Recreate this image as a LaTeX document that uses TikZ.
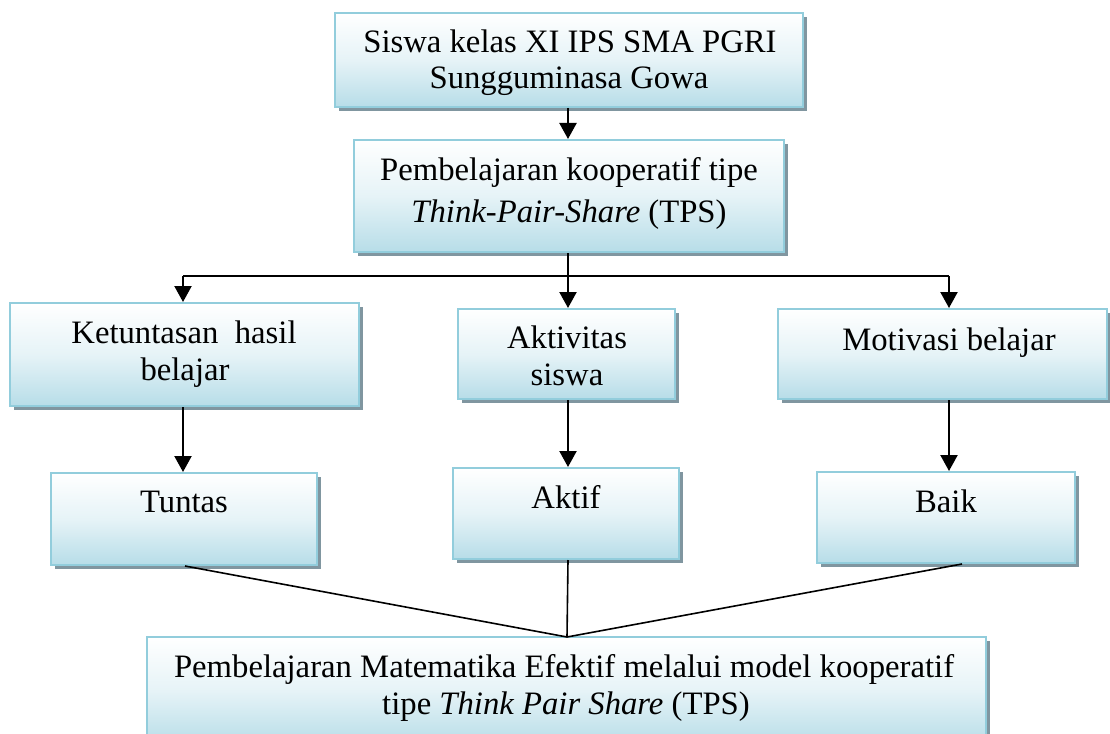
\documentclass[tikz,border=0pt]{standalone}
\usepackage{fontspec}
\setmainfont{Liberation Serif}
\usetikzlibrary{arrows.meta,shadows,fit}
\definecolor{boxline}{RGB}{146,205,220}
\definecolor{boxfill}{RGB}{183,221,232}
\definecolor{shc}{RGB}{128,150,160}
\tikzset{
  box/.style={draw=boxline, line width=2pt, inner sep=0pt,
    top color=white, bottom color=boxfill, middle color={boxfill!35!white},
    drop shadow={shadow xshift=4pt, shadow yshift=-4pt, fill=shc, opacity=1}},
  txt/.style={anchor=base, inner sep=0pt, font=\fontsize{32.7}{36}\selectfont},
  arr/.style={line width=2.2pt, -{Triangle[width=17pt,length=16pt]}},
  ln/.style={line width=2.2pt},
  thin ln/.style={line width=1.6pt}
}
\begin{document}
\begin{tikzpicture}[x=1pt,y=-1pt]
\useasboundingbox (0,0) rectangle (1110,733);
\clip (0,0) rectangle (1110,733);
% boxes
\node[box, fit={(335,13) (803,107)}] (b1) {};
\node[box, fit={(354,140) (784,252)}] (b2) {};
\node[box, fit={(10,303) (359,406)}] (b3) {};
\node[box, fit={(458,309) (675,399)}] (b4) {};
\node[box, fit={(778,309) (1107,399)}] (b5) {};
\node[box, fit={(51,473) (317,565)}] (b6) {};
\node[box, fit={(453,468) (679,559)}] (b7) {};
\node[box, fit={(817,472) (1075,563)}] (b8) {};
\node[box, fit={(147,637) (986,745)}] (b9) {};
% texts
\node[txt] (t1a) at (570,53) {Siswa kelas XI IPS SMA PGRI};
\node[txt] (t1b) at (569,89) {Sungguminasa Gowa};
\node[txt] (t2a) at (569,180) {Pembelajaran kooperatif tipe};
\node[txt] (t2b) at (569,222) {\textit{Think-Pair-Share} (TPS)};
\node[txt] (t3a) at (184,343) {Ketuntasan\ \ hasil};
\node[txt] (t3b) at (185,380) {belajar};
\node[txt] (t4a) at (567,348) {Aktivitas};
\node[txt] (t4b) at (567,385) {siswa};
\node[txt] (t5a) at (949,350) {Motivasi belajar};
\node[txt] (t6a) at (184,512) {Tuntas};
\node[txt] (t7a) at (566,508) {Aktif};
\node[txt] (t8a) at (946,512) {Baik};
\node[txt] (t9a) at (564,677) {Pembelajaran Matematika Efektif melalui model kooperatif};
\node[txt] (t9b) at (566,714) {tipe \textit{Think Pair Share} (TPS)};
% connectors
\coordinate (j) at (568,276);
\coordinate (jl) at (183,276);
\coordinate (jr) at (949,276);
\coordinate (m) at (567,637);
\draw[arr] (b1.south -| j) -- (b2.north -| j);
\draw[ln] (b2.south -| j) -- (j);
\draw[ln] (jl) -- (jr);
\draw[arr] (jl) -- (jl |- b3.north);
\draw[arr] (j) -- (j |- b4.north);
\draw[arr] (jr) -- (jr |- b5.north);
\draw[arr] (b3.south -| jl) -- (b6.north -| jl);
\draw[arr] (b4.south -| j) -- (b7.north -| j);
\draw[arr] (b5.south -| jr) -- (b8.north -| jr);
\draw[thin ln] ([xshift=1pt]b6.south) -- (m);
\draw[thin ln] (b7.south -| j) -- (m);
\draw[thin ln] ([xshift=16pt]b8.south) -- (m);
\end{tikzpicture}
\end{document}
